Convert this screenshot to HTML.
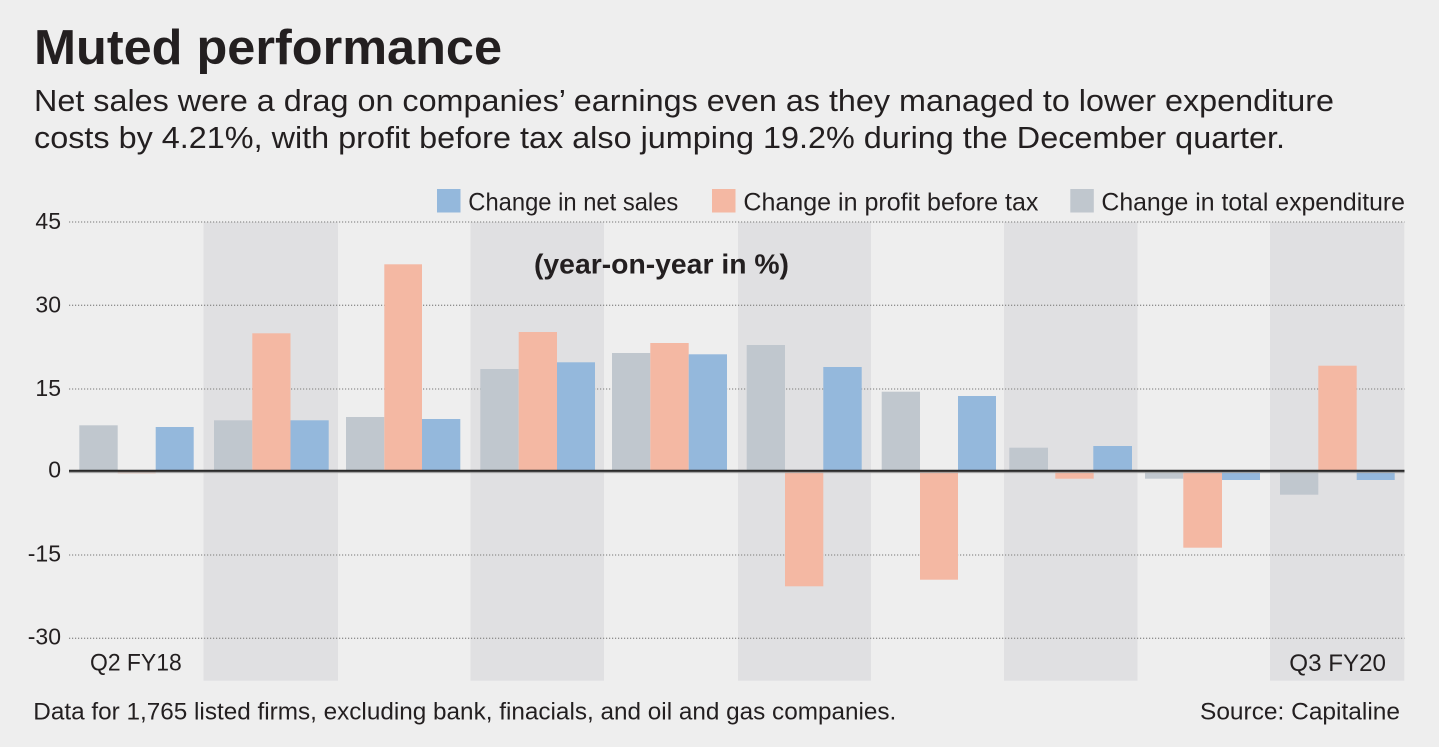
<!DOCTYPE html>
<html>
<head>
<meta charset="utf-8">
<style>
  html,body{margin:0;padding:0;background:#eeeeee;}
  svg{display:block;}
  text{font-family:"Liberation Sans",sans-serif;fill:#231f20;}
</style>
</head>
<body>
<svg width="1439" height="747" viewBox="0 0 1439 747" xmlns="http://www.w3.org/2000/svg">
  <rect x="0" y="0" width="1439" height="747" fill="#eeeeee"/>

  <!-- Title & subtitle -->
  <text x="34" y="64" font-size="49" font-weight="bold" textLength="468" lengthAdjust="spacingAndGlyphs">Muted performance</text>
  <text x="34" y="111" font-size="31" textLength="1300" lengthAdjust="spacingAndGlyphs">Net sales were a drag on companies’ earnings even as they managed to lower expenditure</text>
  <text x="34" y="148" font-size="31" textLength="1251" lengthAdjust="spacingAndGlyphs">costs by 4.21%, with profit before tax also jumping 19.2% during the December quarter.</text>

  <!-- Legend -->
  <rect x="437" y="189" width="23.5" height="23.5" fill="#94b8dc"/>
  <text x="468.3" y="210.7" font-size="25" textLength="210" lengthAdjust="spacingAndGlyphs">Change in net sales</text>
  <rect x="712" y="189" width="23.5" height="23.5" fill="#f4b8a3"/>
  <text x="743.4" y="210.7" font-size="25" textLength="295" lengthAdjust="spacingAndGlyphs">Change in profit before tax</text>
  <rect x="1070.3" y="189" width="23.5" height="23.5" fill="#c0c7ce"/>
  <text x="1101.4" y="210.7" font-size="25" textLength="303.6" lengthAdjust="spacingAndGlyphs">Change in total expenditure</text>

  <!-- Shaded bands -->
  <g fill="#e0e0e2">
    <rect x="203.5" y="222" width="134.5" height="458.7"/>
    <rect x="470.5" y="222" width="133.5" height="458.7"/>
    <rect x="738" y="222" width="133" height="458.7"/>
    <rect x="1004" y="222" width="133.5" height="458.7"/>
    <rect x="1270" y="222" width="134.3" height="458.7"/>
  </g>

  <!-- Gridlines -->
  <g stroke="#8f8f8f" stroke-width="1.3" stroke-dasharray="1.2 1.8">
    <line x1="69" y1="222" x2="1404.5" y2="222"/>
    <line x1="69" y1="305.3" x2="1404.5" y2="305.3"/>
    <line x1="69" y1="389" x2="1404.5" y2="389"/>
    <line x1="69" y1="555" x2="1404.5" y2="555"/>
    <line x1="69" y1="638.3" x2="1404.5" y2="638.3"/>
  </g>

  <!-- Y labels -->
  <g font-size="23" text-anchor="end">
    <text x="61" y="229">45</text>
    <text x="61" y="312.5">30</text>
    <text x="61" y="396">15</text>
    <text x="61" y="477.7">0</text>
    <text x="61" y="561.5">-15</text>
    <text x="61" y="644.5">-30</text>
  </g>

  <!-- (year-on-year in %) -->
  <text x="534" y="273.3" font-size="28" font-weight="bold" textLength="255" lengthAdjust="spacingAndGlyphs">(year-on-year in %)</text>

  <!-- Bars: gray = total expenditure, orange = PBT, blue = net sales -->
  <g>
    <!-- G1 -->
    <rect x="79.3" y="425.3" width="38.4" height="45.7" fill="#c0c7ce"/>
    <rect x="117.7" y="471" width="38" height="2.3" fill="#f4b8a3"/>
    <rect x="155.7" y="427" width="38" height="44" fill="#94b8dc"/>
    <!-- G2 -->
    <rect x="214" y="420.3" width="38.3" height="50.7" fill="#c0c7ce"/>
    <rect x="252.3" y="333.3" width="38.2" height="137.7" fill="#f4b8a3"/>
    <rect x="290.5" y="420.3" width="38.2" height="50.7" fill="#94b8dc"/>
    <!-- G3 -->
    <rect x="346" y="417" width="38.3" height="54" fill="#c0c7ce"/>
    <rect x="384.3" y="264.3" width="37.7" height="206.7" fill="#f4b8a3"/>
    <rect x="422" y="419" width="38.3" height="52" fill="#94b8dc"/>
    <!-- G4 -->
    <rect x="480.3" y="369" width="38.4" height="102" fill="#c0c7ce"/>
    <rect x="518.7" y="332" width="38.3" height="139" fill="#f4b8a3"/>
    <rect x="557" y="362.3" width="38" height="108.7" fill="#94b8dc"/>
    <!-- G5 -->
    <rect x="612" y="353" width="38.3" height="118" fill="#c0c7ce"/>
    <rect x="650.3" y="343" width="38.4" height="128" fill="#f4b8a3"/>
    <rect x="688.7" y="354.3" width="38.3" height="116.7" fill="#94b8dc"/>
    <!-- G6 -->
    <rect x="746.7" y="345" width="38.3" height="126" fill="#c0c7ce"/>
    <rect x="785" y="471" width="38.3" height="115.3" fill="#f4b8a3"/>
    <rect x="823.3" y="367" width="38.4" height="104" fill="#94b8dc"/>
    <!-- G7 -->
    <rect x="881.7" y="391.7" width="38.3" height="79.3" fill="#c0c7ce"/>
    <rect x="920" y="471" width="38" height="108.7" fill="#f4b8a3"/>
    <rect x="958" y="396" width="38" height="75" fill="#94b8dc"/>
    <!-- G8 -->
    <rect x="1009.3" y="447.7" width="38.7" height="23.3" fill="#c0c7ce"/>
    <rect x="1055.3" y="471" width="38.4" height="7.7" fill="#f4b8a3"/>
    <rect x="1093.3" y="446" width="38.7" height="25" fill="#94b8dc"/>
    <!-- G9 -->
    <rect x="1145" y="471" width="38.3" height="7.7" fill="#c0c7ce"/>
    <rect x="1183.3" y="471" width="38.7" height="76.7" fill="#f4b8a3"/>
    <rect x="1222" y="471" width="38" height="9" fill="#94b8dc"/>
    <!-- G10 -->
    <rect x="1280" y="471" width="38.3" height="23.7" fill="#c0c7ce"/>
    <rect x="1318.3" y="365.7" width="38.4" height="105.3" fill="#f4b8a3"/>
    <rect x="1356.7" y="471" width="38" height="9" fill="#94b8dc"/>
  </g>

  <!-- Zero line -->
  <line x1="69" y1="470.8" x2="1404.5" y2="470.8" stroke="#2a2a2a" stroke-width="2.2"/>
  <line x1="69" y1="472.6" x2="1404.5" y2="472.6" stroke="#9a9a9a" stroke-width="1"/>

  <!-- X labels -->
  <text x="90" y="670.7" font-size="24" textLength="91.7" lengthAdjust="spacingAndGlyphs">Q2 FY18</text>
  <text x="1289.3" y="671" font-size="24" textLength="96.7" lengthAdjust="spacingAndGlyphs">Q3 FY20</text>

  <!-- Footer -->
  <text x="33.3" y="719.3" font-size="24" textLength="863" lengthAdjust="spacingAndGlyphs">Data for 1,765 listed firms, excluding bank, finacials, and oil and gas companies.</text>
  <text x="1200" y="719.3" font-size="24" textLength="200" lengthAdjust="spacingAndGlyphs">Source: Capitaline</text>
</svg>
</body>
</html>
